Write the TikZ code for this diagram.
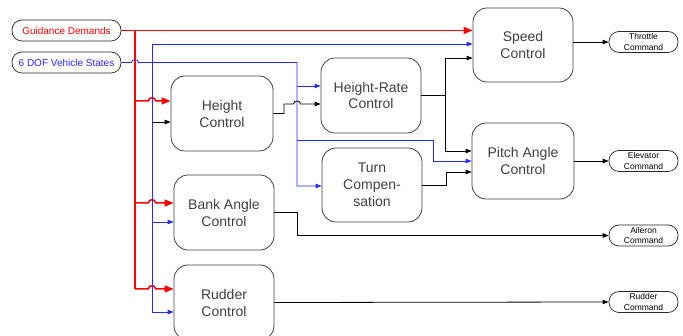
\documentclass[tikz,border=0pt]{standalone}
\usepackage{fontspec}
\setmainfont{Liberation Sans}
\usetikzlibrary{arrows.meta}
\definecolor{bluel}{RGB}{40,40,255}
\begin{document}
\begin{tikzpicture}[x=1pt,y=-1pt,
  blk/.style={draw=black!75, line width=0.8pt, rounded corners=14pt, align=center,
    font=\fontsize{14}{17}\selectfont, text=black!75, inner sep=0pt},
  pill/.style={draw=black!85, line width=0.7pt, rounded corners=10pt, align=center, inner sep=0pt,
    minimum height=21pt},
  opill/.style={pill, minimum width=69pt, font=\fontsize{8.5}{10.5}\selectfont},
  rl/.style={draw=red, line width=1.5pt},
  bl/.style={draw=bluel, line width=0.8pt},
  bk/.style={draw=black, line width=0.8pt},
  rarr/.style={-{Triangle[length=9pt,width=7pt]}},
  sarr/.style={-{Triangle[length=6pt,width=4.5pt]}}
]
\useasboundingbox (0,0) rectangle (683,336);
\clip (0,0) rectangle (683,336);

% input pills
\node[pill, minimum width=109pt, text=red, font=\fontsize{10}{12}\selectfont] (gd) at (66.5,30.5) {Guidance Demands};
\node[pill, minimum width=109pt, text=bluel, font=\fontsize{10}{12}\selectfont] (dof) at (66.5,62.5) {6 DOF Vehicle States};

% blocks
\node[blk, minimum width=102pt, minimum height=75pt] (hc) at (222,113.5) {Height\\Control};
\node[blk, minimum width=100pt, minimum height=75pt] (bank) at (224,212.5) {Bank Angle\\Control};
\node[blk, minimum width=100pt, minimum height=75pt] (rud) at (224,302.5) {Rudder\\Control};
\node[blk, minimum width=100pt, minimum height=75pt] (hrc) at (371,95.5) {Height-Rate\\Control};
\node[blk, minimum width=100pt, minimum height=74pt] (tc) at (372,185) {Turn\\Compen-\\sation};
\node[blk, minimum width=100pt, minimum height=74pt] (speed) at (523,45) {Speed\\Control};
\node[blk, minimum width=102pt, minimum height=76pt] (pitch) at (523,161) {Pitch Angle\\Control};

% output pills
\node[opill] (thr) at (643.5,42) {Throttle\\Command};
\node[opill] (elev) at (643.5,161) {Elevator\\Command};
\node[opill] (ail) at (643.5,235.5) {Aileron\\Command};
\node[opill] (rcmd) at (643.5,302) {Rudder\\Command};

% red guidance demand lines
\draw[rl,rarr] (gd.east) -- (speed.west |- gd.east);
\draw[rl] (135,30.5) -- (135,289);
\draw[rl,rarr] (135,101) -- (148.5,101) .. controls (148.5,96.5) and (155.5,96.5) .. (155.5,101) -- (hc.west |- 0,101);
\draw[rl,rarr] (135,203) -- (148.5,203) .. controls (148.5,198.5) and (155.5,198.5) .. (155.5,203) -- (bank.west |- 0,203);
\draw[rl,rarr] (135,289) -- (148.5,289) .. controls (148.5,284.5) and (155.5,284.5) .. (155.5,289) -- (rud.west |- 0,289);

% blue vehicle state lines
\draw[bl,sarr] (dof.east) -- (131.5,62.5) .. controls (131.5,58.5) and (138.5,58.5) .. (138.5,62.5)
  -- (297,62.5) -- (297,186) -- (tc.west |- 0,186);
\draw[bl,sarr] (297,86) -- (hrc.west |- 0,86);
\draw[bl,sarr] (297,140) -- (433,140) -- (433,161) -- (pitch.west |- 0,161);
\draw[bl,sarr] (152,62.5) -- (152,44) -- (speed.west |- 0,44);
\draw[bl,sarr] (152,62.5) -- (152,312) -- (rud.west |- 0,312);
\draw[bl,sarr] (152,222) -- (bank.west |- 0,222);

% black signal lines
\draw[bk,sarr] (152,122) -- (hc.west |- 0,122);
\draw[bk,sarr] (hc.east) -- (284,113.5) -- (284,104) -- (293.5,104)
  .. controls (293.5,100) and (300.5,100) .. (300.5,104) -- (hrc.west |- 0,104);
\draw[bk] (hrc.east) -- (445,95.5);
\draw[bk,sarr] (445,58) -- (speed.west |- 0,58);
\draw[bk,sarr] (445,58) -- (445,151) -- (pitch.west |- 0,151);
\draw[bk,sarr] (tc.east) -- (446,185) -- (446,172) -- (pitch.west |- 0,172);
\draw[bk,sarr] (bank.east) -- (297,212.5) -- (297,235.5) -- (ail.west);
\draw[bk,sarr] (rud.east) -- (rcmd.west);
\draw[bk,sarr] (speed.east |- 0,42) -- (thr.west);
\draw[bk,sarr] (pitch.east) -- (elev.west);
\end{tikzpicture}
\end{document}
